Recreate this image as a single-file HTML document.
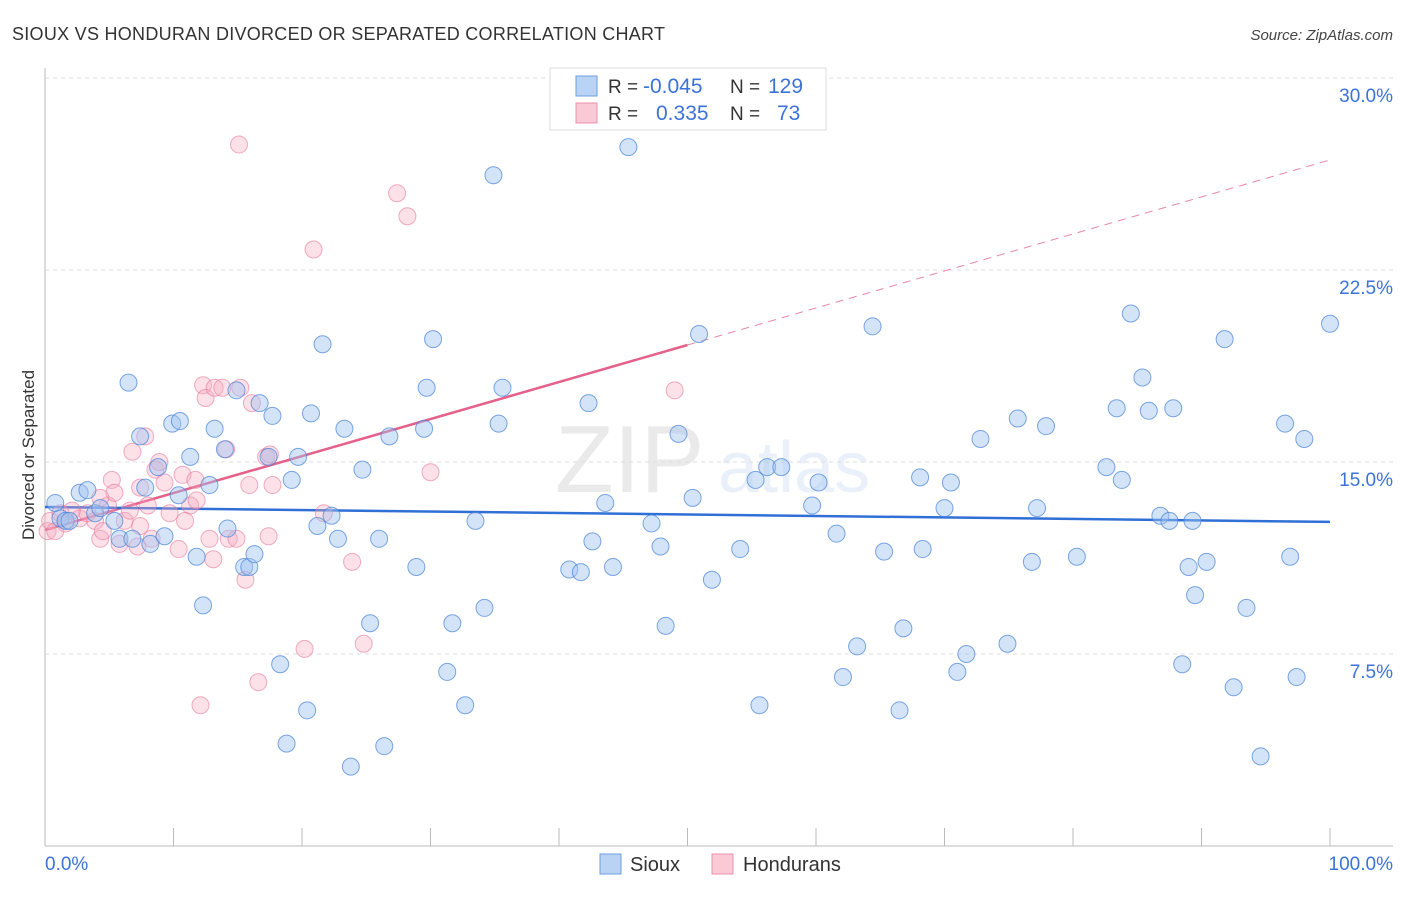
<!DOCTYPE html>
<html><head><meta charset="utf-8"><style>
body{margin:0;background:#fff;font-family:"Liberation Sans",sans-serif;}
svg text{font-family:"Liberation Sans",sans-serif;}
</style></head><body>
<svg id="chart" width="1406" height="892" xmlns="http://www.w3.org/2000/svg">
<text x="12" y="40" font-size="18" fill="#333" textLength="653" lengthAdjust="spacing">SIOUX VS HONDURAN DIVORCED OR SEPARATED CORRELATION CHART</text>
<text x="1393" y="40" font-size="15" fill="#444" font-style="italic" text-anchor="end">Source: ZipAtlas.com</text>
<g opacity="0.13">
<text x="555" y="492" font-size="96" font-family="Liberation Serif" fill="#666">ZIP</text>
<text x="718" y="492" font-size="72" fill="#5b8fd6">atlas</text>
</g>
<g id="grid"></g>
<g id="axes"></g>
<text transform="translate(34,455) rotate(-90)" font-size="17" fill="#333" text-anchor="middle">Divorced or Separated</text>
<g id="lines"></g>
<g id="pts"></g>
<g>
<rect x="550" y="68" width="276" height="62" fill="#fff" stroke="#ddd"/>
<rect x="576" y="76" width="21" height="20" fill="#b9d3f5" stroke="#6d9fe0"/>
<rect x="576" y="103" width="21" height="20" fill="#f9c9d6" stroke="#ec8fab"/>
<text x="608" y="93" font-size="19" fill="#333">R = </text><text x="643" y="93" font-size="21" fill="#3b73d9">-0.045</text>
<text x="730" y="93" font-size="19" fill="#333">N = </text><text x="768" y="93" font-size="21" fill="#3b73d9">129</text>
<text x="608" y="120" font-size="19" fill="#333">R = </text><text x="656" y="120" font-size="21" fill="#3b73d9">0.335</text>
<text x="730" y="120" font-size="19" fill="#333">N = </text><text x="777" y="120" font-size="21" fill="#3b73d9">73</text>
</g>
<g>
<rect x="600" y="854" width="21" height="20" fill="#b9d3f5" stroke="#6d9fe0"/>
<text x="630" y="871" font-size="20" fill="#333">Sioux</text>
<rect x="712" y="854" width="21" height="20" fill="#f9c9d6" stroke="#ec8fab"/>
<text x="743" y="871" font-size="20" fill="#333">Hondurans</text>
</g>
<text x="45" y="870" font-size="19" fill="#3b73d9">0.0%</text>
<text x="1393" y="870" font-size="19" fill="#3b73d9" text-anchor="end">100.0%</text>
</svg>
<script>
const yTicks=[7.5,15,22.5,30];
const yTickLabels=["7.5%","15.0%","22.5%","30.0%"];
const xTicks=[0,10,20,30,40,50,60,70,80,90,100];
const siouxX=[0.8,1.2,1.6,1.9,2.7,3.3,3.9,4.3,5.4,5.8,6.5,6.8,7.4,7.8,8.2,8.8,9.3,9.9,10.4,10.5,11.3,11.8,12.3,12.8,13.2,14.0,14.2,14.9,15.5,15.9,16.3,16.7,17.4,17.7,18.3,18.8,19.2,19.7,20.4,20.7,21.2,21.6,22.3,22.8,23.3,23.8,24.7,25.3,26.0,26.4,26.8,28.9,29.5,29.7,30.2,31.3,31.7,32.7,33.5,34.2,34.9,35.3,35.6,40.8,41.7,42.3,42.6,43.6,44.2,45.4,47.2,47.9,48.3,49.3,50.4,50.9,51.9,54.1,55.3,55.6,56.2,57.3,59.7,60.2,61.6,62.1,63.2,64.4,65.3,66.5,66.8,68.1,68.3,70.0,70.5,71.0,71.7,72.8,74.9,75.7,76.8,77.2,77.9,80.3,82.6,83.4,83.8,84.5,85.4,85.9,86.8,87.5,87.8,88.5,89.0,89.3,89.5,90.4,91.8,92.5,93.5,94.6,96.5,96.9,97.4,98.0,100];
const siouxY=[13.4,12.8,12.7,12.7,13.8,13.9,13.0,13.2,12.7,12.0,18.1,12.0,16.0,14.0,11.8,14.8,12.1,16.5,13.7,16.6,15.2,11.3,9.4,14.1,16.3,15.5,12.4,17.8,10.9,10.9,11.4,17.3,15.2,16.8,7.1,4.0,14.3,15.2,5.3,16.9,12.5,19.6,12.9,12.0,16.3,3.1,14.7,8.7,12.0,3.9,16.0,10.9,16.3,17.9,19.8,6.8,8.7,5.5,12.7,9.3,26.2,16.5,17.9,10.8,10.7,17.3,11.9,13.4,10.9,27.3,12.6,11.7,8.6,16.1,13.6,20.0,10.4,11.6,14.3,5.5,14.8,14.8,13.3,14.2,12.2,6.6,7.8,20.3,11.5,5.3,8.5,14.4,11.6,13.2,14.2,6.8,7.5,15.9,7.9,16.7,11.1,13.2,16.4,11.3,14.8,17.1,14.3,20.8,18.3,17.0,12.9,12.7,17.1,7.1,10.9,12.7,9.8,11.1,19.8,6.2,9.3,3.5,16.5,11.3,6.6,15.9,20.4];
const hondX=[0.2,0.4,0.8,1.2,1.6,2.1,2.7,3.3,3.9,4.3,4.5,4.9,5.2,5.4,5.8,6.2,6.6,6.8,7.2,7.4,7.8,8.0,8.3,8.6,8.9,9.3,9.7,10.4,10.7,10.9,11.3,11.7,11.8,12.1,12.3,12.5,12.8,13.1,13.2,13.8,14.1,14.3,14.9,15.1,15.6,15.9,16.1,16.6,17.2,17.5,17.7,17.4,20.2,20.9,21.7,23.9,24.8,27.4,28.2,30.0,49.0,7.4,4.3,15.2];
const hondY=[12.3,12.7,12.3,13.0,12.6,13.1,12.8,13.0,12.7,12.0,12.3,13.3,14.3,13.8,11.8,12.7,13.1,15.4,11.7,12.5,16.0,13.3,12.0,14.7,15.0,14.2,13.0,11.6,14.5,12.7,13.3,14.3,13.5,5.5,18.0,17.5,12.0,11.2,17.9,17.9,15.5,12.0,12.0,27.4,10.4,14.1,17.3,6.4,15.2,15.3,14.1,12.1,7.7,23.3,13.0,11.1,7.9,25.5,24.6,14.6,17.8,14.0,13.6,17.9];
const siouxTrend=[13.24,12.66];
const hondTrend=[12.34,26.8];
const hondSolidEnd=50;
const NS="http://www.w3.org/2000/svg";
const X=v=>45+v*12.85, Y=v=>846-v*25.6;
function mk(tag,attrs,parent){const e=document.createElementNS(NS,tag);for(const k in attrs)e.setAttribute(k,attrs[k]);parent.appendChild(e);return e;}
const grid=document.getElementById('grid'),axes=document.getElementById('axes'),lines=document.getElementById('lines'),pts=document.getElementById('pts');
yTicks.forEach((t,i)=>{
 const l=mk('line',{x1:45,x2:1393,y1:Y(t),y2:Y(t),stroke:'#ddd','stroke-dasharray':'4 4'},grid);
 
 
 const tx=mk('text',{x:1393,y:Y(t)+24,'font-size':19,fill:'#3b73d9','text-anchor':'end'},grid);
 tx.textContent=yTickLabels[i];
 
 
});
mk('line',{x1:45,x2:45,y1:68,y2:846,stroke:'#bbb'},axes);
mk('line',{x1:45,x2:1393,y1:846,y2:846,stroke:'#bbb'},axes);
xTicks.forEach(t=>{const k=mk('line',{x1:X(t),x2:X(t),y1:828,y2:846,stroke:'#bbb'},axes);
 
 });
function dot(x,y,fill,stroke){const c=mk('circle',{cx:X(x),cy:Y(y),r:8.5,fill:fill,stroke:stroke,'stroke-width':1},pts);return c;}
hondX.forEach((x,i)=>{const c=dot(x,hondY[i],'rgba(246,170,192,0.35)','rgba(232,120,155,0.6)');
 
 });
siouxX.forEach((x,i)=>{const c=dot(x,siouxY[i],'rgba(160,195,240,0.45)','rgba(70,130,215,0.7)');
 
 });
const hAt=x=>hondTrend[0]+(hondTrend[1]-hondTrend[0])*x/100;
const ld=mk('line',{x1:X(hondSolidEnd),y1:Y(hAt(hondSolidEnd)),x2:X(100),y2:Y(hAt(100)),stroke:'#e88aa8','stroke-width':1,'stroke-dasharray':'8 6'},lines);


const ls=mk('line',{x1:X(0),y1:Y(hAt(0)),x2:X(hondSolidEnd),y2:Y(hAt(hondSolidEnd)),stroke:'#e5608a','stroke-width':2.5},lines);


const lb=mk('line',{x1:X(0),y1:Y(siouxTrend[0]),x2:X(100),y2:Y(siouxTrend[1]),stroke:'#2f6fd6','stroke-width':2.5},lines);


</script>
</body></html>
